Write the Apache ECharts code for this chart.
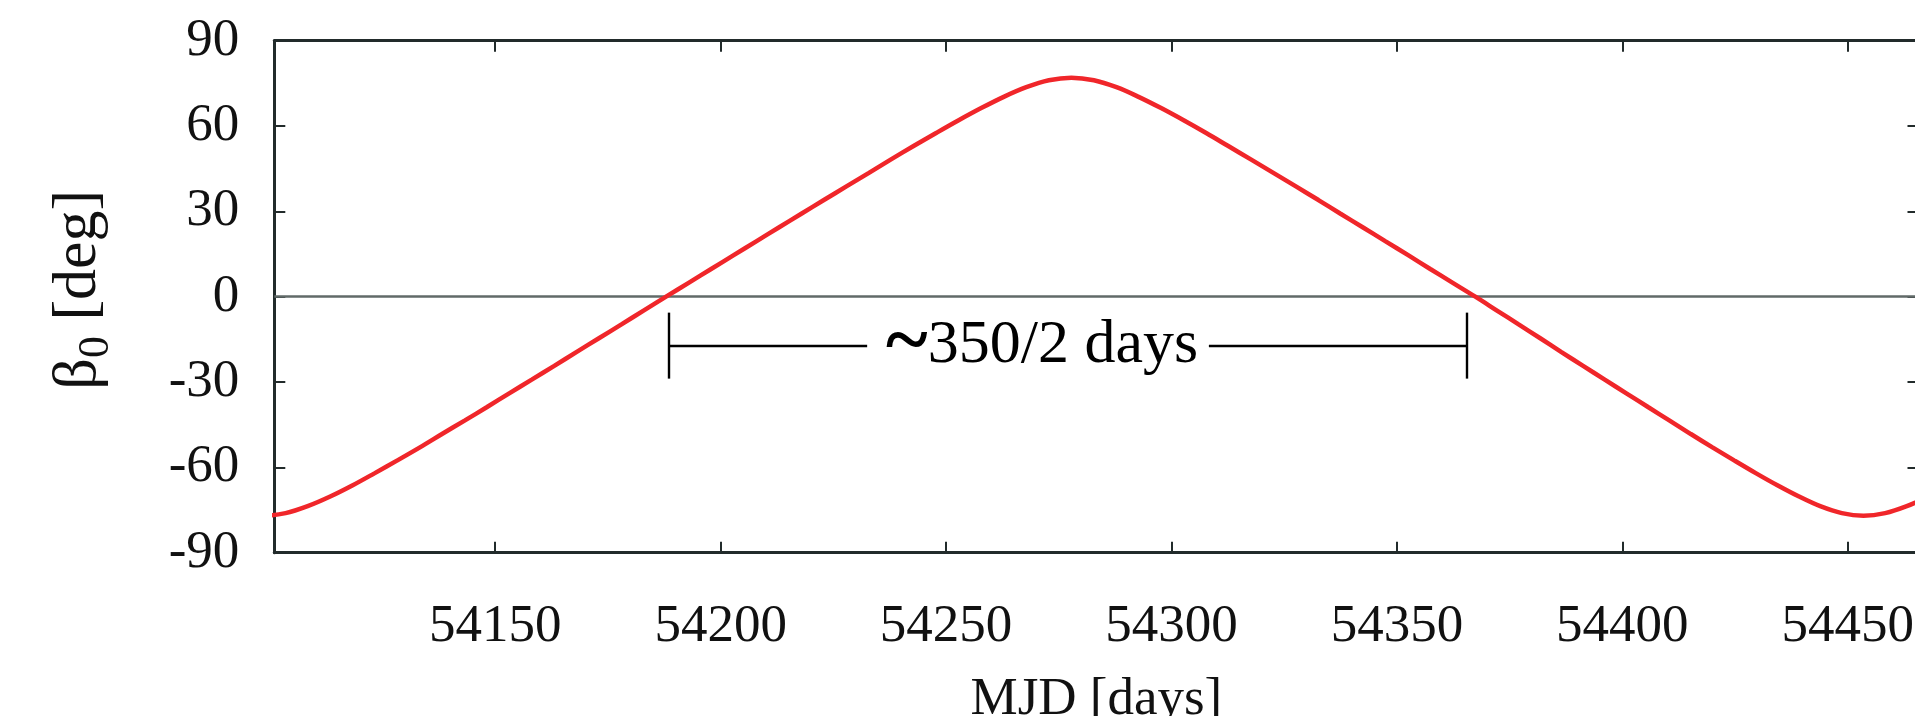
<!DOCTYPE html>
<html>
<head>
<meta charset="utf-8">
<script src="https://cdn.jsdelivr.net/npm/echarts@6/dist/echarts.min.js"></script>
<style>
html,body{margin:0;padding:0;background:#fff;}
#chart{width:1915px;height:716px;}
</style>
</head>
<body>
<div id="chart"></div>
<script>
// ---- data ----
const mjd = [54093.5,54098.5,54103.5,54108.4,54113.4,54118.4,54123.3,54128.3,54133.3,54138.2,54143.2,54148.2,54153.1,54158.1,54163.1,54168.0,54173.0,54178.0,54182.9,54187.9,
  54192.9,54197.9,54202.9,54207.9,54212.9,54217.9,54222.9,54227.9,54232.9,54237.8,54242.8,54247.8,54252.8,54257.8,54262.8,54267.8,54272.8,54277.8,
  54282.8,54287.8,54292.7,54297.7,54302.7,54307.7,54312.6,54317.6,54322.6,54327.6,54332.6,54337.5,54342.5,54347.5,54352.5,54357.4,54362.4,54367.4,
  54372.2,54377.0,54381.8,54386.5,54391.3,54396.1,54400.9,54405.7,54410.5,54415.2,54420.0,54424.8,54429.6,54434.4,54439.2,54443.9,54448.7,54453.5,
  54458.3,54463.1,54467.9];
const beta0 = [-76.09,-77.0,-76.09,-73.65,-70.26,-66.30,-62.02,-57.54,-52.96,-48.28,-43.55,-38.78,-33.98,-29.16,-24.32,-19.47,-14.61,-9.74,-4.87,0,
  4.87,9.74,14.61,19.47,24.32,29.16,33.98,38.78,43.55,48.28,52.96,57.54,62.02,66.30,70.26,73.65,76.09,77.0,
  76.09,73.65,70.26,66.30,62.02,57.54,52.96,48.28,43.55,38.78,33.98,29.16,24.32,19.47,14.61,9.74,4.87,0,
  -4.87,-9.74,-14.61,-19.47,-24.32,-29.16,-33.98,-38.78,-43.55,-48.28,-52.96,-57.54,-62.02,-66.30,-70.26,-73.65,-76.09,-77.0,
  -76.09,-73.65,-70.26];
const xTicks = [54150,54200,54250,54300,54350,54400,54450];
const yTicks = [-90,-60,-30,0,30,60,90];
const xRange = [54101, 54465.7];
const yRange = [-90, 90];
// annotation: "~350/2 days" bracket (data units)
const annLeft = 54188.6, annRight = 54365.5;
const annY = -17.2, annCapTop = -5.6, annCapBottom = -28.8;
const annGapLeft = 54232.5, annGapRight = 54308.3;
const annTextX = 54271.3;
const annTilde = '~';
const annText = '350/2 days';
const xName = 'MJD [days]';
const yNameMain = 'β', yNameSub = '0', yNameUnit = ' [deg]';

// ---- chart ----
const FONT = 'Liberation Serif';
const FRAME = '#222b2b';
const chart = echarts.init(document.getElementById('chart'), null, {renderer:'canvas'});
const lineData = mjd.map((t,i)=>[t, beta0[i]]);
const plain = v => String(v);

const option = {
  animation:false,
  backgroundColor:'#fff',
  grid:{left:274.3, top:40.7, right:-3.5, bottom:163.3, containLabel:false, outerBoundsMode:'none'},
  xAxis:[{
    type:'value', position:'bottom', min:xRange[0], max:xRange[1],
    axisLine:{show:true, onZero:false, lineStyle:{color:FRAME, width:3}},
    axisTick:{show:true, inside:true, length:11, customValues:xTicks, lineStyle:{color:FRAME, width:2}},
    axisLabel:{show:true, customValues:xTicks, formatter:plain, margin:48, fontFamily:FONT, fontSize:53, color:'#111'},
    splitLine:{show:false},
    name:xName, nameLocation:'middle', nameGap:121,
    nameTextStyle:{fontFamily:FONT, fontSize:53, color:'#111'}
  },{
    type:'value', position:'top', min:xRange[0], max:xRange[1],
    axisLine:{show:true, onZero:false, lineStyle:{color:FRAME, width:3}},
    axisTick:{show:true, inside:true, length:11, customValues:xTicks, lineStyle:{color:FRAME, width:2}},
    axisLabel:{show:false}, splitLine:{show:false}
  }],
  yAxis:[{
    type:'value', position:'left', min:yRange[0], max:yRange[1], interval:30,
    axisLine:{show:true, onZero:false, lineStyle:{color:FRAME, width:3}},
    axisTick:{show:true, inside:true, length:11, lineStyle:{color:FRAME, width:2}},
    axisLabel:{show:true, margin:35, fontFamily:FONT, fontSize:53, color:'#111',
      customValues:yTicks, formatter:plain},
    splitLine:{show:false},
    name:'{b|'+yNameMain+'}{s|'+yNameSub+'}{b|'+yNameUnit+'}',
    nameLocation:'middle', nameGap:156, nameRotate:90,
    nameTextStyle:{fontFamily:FONT, fontSize:62, color:'#111', padding:[0,0,0,14],
      rich:{
        b:{fontFamily:FONT, fontSize:62, color:'#111', lineHeight:80, verticalAlign:'middle'},
        s:{fontFamily:FONT, fontSize:44, color:'#111', verticalAlign:'bottom'}
      }}
  },{
    type:'value', position:'right', min:yRange[0], max:yRange[1], interval:30,
    axisLine:{show:true, onZero:false, lineStyle:{color:FRAME, width:3}},
    axisTick:{show:true, inside:true, length:11, lineStyle:{color:FRAME, width:2}},
    axisLabel:{show:false}, splitLine:{show:false}
  }],
  series:[{
    type:'line', xAxisIndex:0, yAxisIndex:0, data:lineData,
    showSymbol:false, symbol:'none', smooth:0.35, clip:true, z:5,
    lineStyle:{color:'#f0262a', width:4.5},
    markLine:{
      silent:true, symbol:'none', animation:false,
      label:{show:false},
      lineStyle:{color:'#616a68', width:2.7, type:'solid'},
      data:[{yAxis:0}]
    }
  },{
    type:'line', xAxisIndex:0, yAxisIndex:0, data:[], z:4,
    markLine:{
      silent:true, symbol:'none', animation:false, label:{show:false},
      lineStyle:{color:'#000', width:2.4, type:'solid'},
      data:[
        [{coord:[annLeft, annY]},{coord:[annGapLeft, annY]}],
        [{coord:[annGapRight, annY]},{coord:[annRight, annY]}],
        [{coord:[annLeft, annCapTop]},{coord:[annLeft, annCapBottom]}],
        [{coord:[annRight, annCapTop]},{coord:[annRight, annCapBottom]}]
      ]
    }
  },{
    type:'scatter', xAxisIndex:0, yAxisIndex:0, symbolSize:0, z:6, silent:true,
    itemStyle:{opacity:1},
    data:[[annTextX, annY]],
    label:{show:true, position:'inside', color:'#000', opacity:1, textBorderWidth:0, textBorderColor:'transparent',
      formatter:'{t|'+annTilde+'}{n|'+annText+'}',
      rich:{
        t:{fontFamily:FONT, fontSize:80, fontWeight:'bold', color:'#000', textBorderWidth:0},
        n:{fontFamily:FONT, fontSize:62, color:'#000', textBorderWidth:0}
      }}
  }]
};
chart.setOption(option);
</script>
</body>
</html>
